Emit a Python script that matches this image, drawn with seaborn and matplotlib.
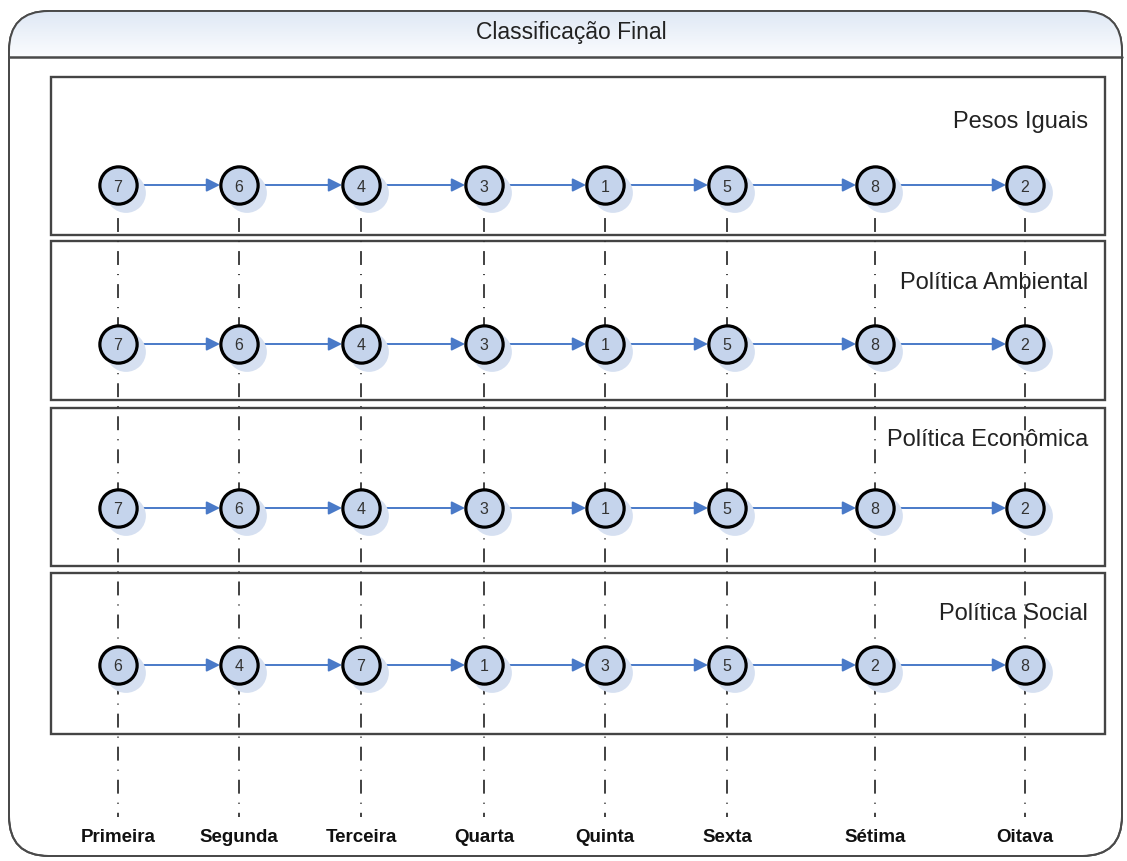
import numpy as np
import pandas as pd
import seaborn as sns
import matplotlib.pyplot as plt
from matplotlib.patches import FancyBboxPatch, Rectangle

# dados da classificação final
posicoes = ["Primeira", "Segunda", "Terceira", "Quarta", "Quinta", "Sexta", "Sétima", "Oitava"]
cenarios = ["Pesos Iguais", "Política Ambiental", "Política Econômica", "Política Social"]
pesos_iguais = [7, 6, 4, 3, 1, 5, 8, 2]
politica_ambiental = [7, 6, 4, 3, 1, 5, 8, 2]
politica_economica = [7, 6, 4, 3, 1, 5, 8, 2]
politica_social = [6, 4, 7, 1, 3, 5, 2, 8]
titulo = "Classificação Final"

ordens = [pesos_iguais, politica_ambiental, politica_economica, politica_social]

# layout em pixels
col_x = [118, 239, 361, 484, 605, 727, 875, 1025]
row_y = [186, 345, 509, 666]
paineis = [(78, 236), (242, 401), (409, 567), (574, 735)]
titulo_y = [122, 283, 440, 614]

sns.set_style("white")
plt.rcParams['font.family'] = ['Liberation Sans', 'DejaVu Sans']

fig = plt.figure(figsize=(11.27, 8.62), dpi=100)
ax = fig.add_axes([0, 0, 1, 1])
ax.set_xlim(0, 1127)
ax.set_ylim(862, 0)
ax.axis("off")

# caixa externa com cantos arredondados
caixa = FancyBboxPatch((9, 12), 1113, 845, boxstyle="round,pad=0,rounding_size=40",
                       fc="white", ec="#4a4a4a", lw=1.4, zorder=1)
ax.add_patch(caixa)
grad = np.linspace(0, 1, 50).reshape(-1, 1)
cab = ax.imshow(grad, extent=(9, 1122, 58, 12), cmap=sns.blend_palette(["#dfe8f5", "#fbfcfe"], as_cmap=True),
                aspect="auto", zorder=1.5)
cab.set_clip_path(caixa)
ax.plot([9, 1122], [58, 58], color="#4a4a4a", lw=1.8, zorder=2)
ax.add_patch(FancyBboxPatch((9, 12), 1113, 845, boxstyle="round,pad=0,rounding_size=40",
                            fc="none", ec="#4a4a4a", lw=1.4, zorder=2))
ax.text(571, 33, titulo, ha="center", va="center", fontsize=16.5, color="#222222", zorder=3)

# paineis
for (y0, y1), nome, ty in zip(paineis, cenarios, titulo_y):
    ax.add_patch(Rectangle((51, y0), 1054, y1 - y0, fc="white", ec="#444444", lw=1.7, zorder=2))
    ax.text(1088, ty, nome, ha="right", va="center", fontsize=17, color="#222222", zorder=3)

# linhas verticais traço-ponto
for x in col_x:
    ax.plot([x, x], [row_y[0], 818], color="#333333", lw=1.3,
            linestyle=(0, (7.7, 5, 0.6, 5)), zorder=3)

# setas entre as posições
for y in row_y:
    for i in range(len(col_x) - 1):
        ax.annotate("", xy=(col_x[i + 1] - 19, y), xytext=(col_x[i] + 19, y),
                    arrowprops=dict(arrowstyle="-|>", color="#4a7ac8", lw=1.4,
                                    mutation_scale=20, shrinkA=0, shrinkB=0),
                    zorder=4)

# nós
df = pd.DataFrame([
    {"cenario": nome, "posicao": posicoes[i], "alternativa": alt, "x": col_x[i], "y": row_y[k]}
    for k, (nome, ordem) in enumerate(zip(cenarios, ordens))
    for i, alt in enumerate(ordem)
])

sombra = df.assign(x=df["x"] + 8, y=df["y"] + 8)
sns.scatterplot(data=sombra, x="x", y="y", s=820, color="#d6e0f1", edgecolor="none",
                ax=ax, zorder=4, legend=False)
sns.scatterplot(data=df, x="x", y="y", s=720, color="#c5d4ec", edgecolor="black",
                linewidth=2.3, ax=ax, zorder=5, legend=False)
for _, r in df.iterrows():
    ax.text(r["x"], r["y"] + 1, str(r["alternativa"]), ha="center", va="center",
            fontsize=11.5, color="#333333", zorder=6)

# rótulos das posições
for x, p in zip(col_x, posicoes):
    ax.text(x, 838, p, ha="center", va="center", fontsize=13.5, fontweight="bold",
            color="#111111", zorder=3)

ax.set_xlim(0, 1127)
ax.set_ylim(862, 0)
ax.axis("off")
fig.savefig("out.png", dpi=100)
